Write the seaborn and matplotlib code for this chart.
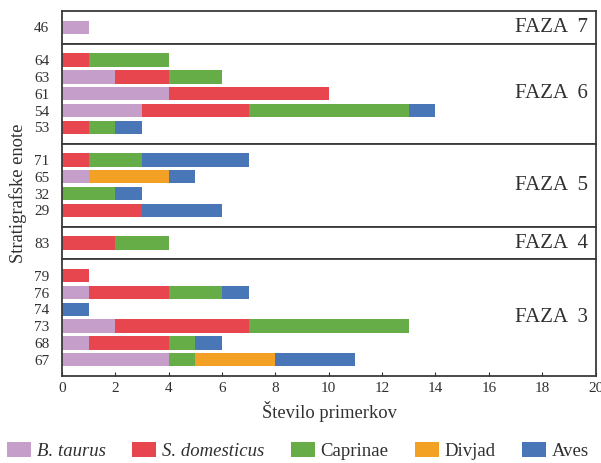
import numpy as np
import pandas as pd
import seaborn as sns
import matplotlib.pyplot as plt
from matplotlib.patches import Patch

species = ["B. taurus", "S. domesticus", "Caprinae", "Divjad", "Aves"]
colors = ["#C59FC9", "#E8464F", "#66AC47", "#F3A125", "#4876B7"]

phases = ["FAZA  7", "FAZA  6", "FAZA  5", "FAZA  4", "FAZA  3"]
units = ["46", "64", "63", "61", "54", "53", "71", "65", "32", "29", "83",
         "79", "76", "74", "73", "68", "67"]
unit_phase = ["FAZA  7",
              "FAZA  6", "FAZA  6", "FAZA  6", "FAZA  6", "FAZA  6",
              "FAZA  5", "FAZA  5", "FAZA  5", "FAZA  5",
              "FAZA  4",
              "FAZA  3", "FAZA  3", "FAZA  3", "FAZA  3", "FAZA  3", "FAZA  3"]
b_taurus = [1, 0, 2, 4, 3, 0, 0, 1, 0, 0, 0, 0, 1, 0, 2, 1, 4]
s_domesticus = [0, 1, 2, 6, 4, 1, 1, 0, 0, 3, 2, 1, 3, 0, 5, 3, 0]
caprinae = [0, 3, 2, 0, 6, 1, 2, 0, 2, 0, 2, 0, 2, 0, 6, 1, 1]
divjad = [0, 0, 0, 0, 0, 0, 0, 3, 0, 0, 0, 0, 0, 0, 0, 0, 3]
aves = [0, 0, 0, 0, 1, 1, 4, 1, 1, 3, 0, 0, 1, 1, 0, 1, 3]
x_ticks = [0, 2, 4, 6, 8, 10, 12, 14, 16, 18, 20]

df = pd.DataFrame({"unit": units, "phase": unit_phase,
                   species[0]: b_taurus, species[1]: s_domesticus,
                   species[2]: caprinae, species[3]: divjad, species[4]: aves})
cum = df[species].cumsum(axis=1)
for sp in species:
    df["cum_" + sp] = cum[sp]

sns.set_theme(style="white")
plt.rcParams["font.family"] = ["Liberation Serif", "DejaVu Serif"]

counts = [sum(1 for p in unit_phase if p == ph) for ph in phases]
pad = 0.975
fig = plt.figure(figsize=(6.01, 4.63), dpi=100)
gs = fig.add_gridspec(len(phases), 1, height_ratios=[n - 1 + 2 * pad for n in counts],
                      hspace=0, left=0.103, right=0.991, top=0.976, bottom=0.188)

spine_col = "#3a3a3a"
txt_col = "#303030"
for i, ph in enumerate(phases):
    ax = fig.add_subplot(gs[i])
    sub = df[df["phase"] == ph]
    order = list(sub["unit"])
    for sp, c in reversed(list(zip(species, colors))):
        sns.barplot(data=sub, x="cum_" + sp, y="unit", order=order, color=c,
                    saturation=1, width=0.8, errorbar=None, ax=ax, linewidth=0)
    n = len(order)
    ax.set_ylim(n - 1 + pad, -pad)
    ax.set_xlim(0, 20)
    ax.set_xlabel("")
    ax.set_ylabel("")
    ax.tick_params(axis="y", direction="in", length=3, width=0.8, pad=9,
                   labelsize=11, left=True, colors=txt_col)
    for s in ax.spines.values():
        s.set_color(spine_col)
        s.set_linewidth(1.3)
        s.set_visible(True)
    ax.set_xticks(x_ticks)
    if i < len(phases) - 1:
        ax.tick_params(axis="x", bottom=False, labelbottom=False)
    else:
        ax.set_xticklabels([str(t) for t in x_ticks])
        ax.tick_params(axis="x", direction="in", length=3, width=0.8, pad=4,
                       labelsize=11, bottom=True, colors=txt_col)
    ax.text(0.986, 0.5, ph, transform=ax.transAxes, ha="right", va="center",
            fontsize=15, color=txt_col)

fig.text(0.548, 0.112, "Število primerkov", ha="center", va="center",
         fontsize=13.3, color=txt_col)
fig.text(0.030, 0.582, "Stratigrafske enote", ha="center", va="center",
         rotation=90, fontsize=13.3, color=txt_col)

handles = [Patch(facecolor=c, edgecolor="none") for c in colors]
leg = fig.legend(handles, species, loc="center left",
                 bbox_to_anchor=(7 / 601, 1 - 451 / 463),
                 ncol=5, frameon=False, fontsize=13.5, handlelength=1.28,
                 handleheight=0.8, handletextpad=0.32, columnspacing=1.4,
                 borderpad=0, borderaxespad=0)
for t in leg.get_texts():
    t.set_color(txt_col)
leg.get_texts()[0].set_fontstyle("italic")
leg.get_texts()[1].set_fontstyle("italic")

fig.savefig("out.png", dpi=100)
